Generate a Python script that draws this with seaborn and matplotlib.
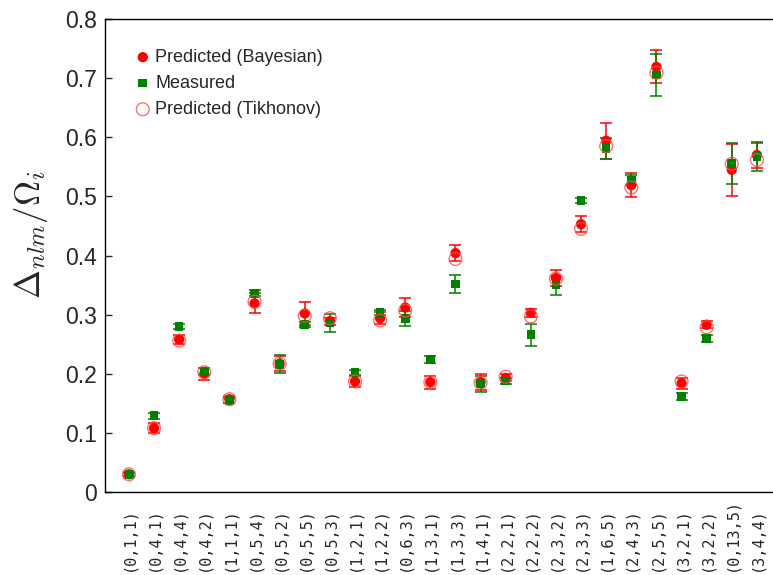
## imports
import numpy as np
import pandas as pd
import seaborn as sns
import matplotlib.pyplot as plt

## quantum number labels (n,l,m)
states = ["(0,1,1)", "(0,4,1)", "(0,4,4)", "(0,4,2)", "(1,1,1)", "(0,5,4)", "(0,5,2)",
          "(0,5,5)", "(0,5,3)", "(1,2,1)", "(1,2,2)", "(0,6,3)", "(1,3,1)", "(1,3,3)",
          "(1,4,1)", "(2,2,1)", "(2,2,2)", "(2,3,2)", "(2,3,3)", "(1,6,5)", "(2,4,3)",
          "(2,5,5)", "(3,2,1)", "(3,2,2)", "(0,13,5)", "(3,4,4)"]

## values
bayes = [0.030, 0.108, 0.258, 0.200, 0.157, 0.319, 0.217, 0.302, 0.289, 0.187, 0.294,
         0.312, 0.186, 0.404, 0.186, 0.193, 0.303, 0.362, 0.453, 0.594, 0.519, 0.719,
         0.184, 0.283, 0.545, 0.570]
bayes_err = [0.004, 0.008, 0.008, 0.010, 0.006, 0.017, 0.013, 0.019, 0.006, 0.009, 0.010,
             0.016, 0.011, 0.0135, 0.014, 0.006, 0.007, 0.013, 0.0135, 0.030, 0.020, 0.028,
             0.009, 0.006, 0.044, 0.022]
measured = [0.030, 0.129, 0.280, 0.2035, 0.1545, 0.336, 0.216, 0.283, 0.286, 0.2025, 0.304,
            0.293, 0.224, 0.352, 0.183, 0.188, 0.266, 0.350, 0.493, 0.581, 0.528, 0.705,
            0.162, 0.260, 0.556, 0.567]
measured_err = [0.003, 0.005, 0.004, 0.006, 0.004, 0.005, 0.015, 0.004, 0.015, 0.004, 0.004,
                0.013, 0.0065, 0.015, 0.013, 0.005, 0.019, 0.016, 0.004, 0.018, 0.008, 0.035,
                0.006, 0.006, 0.035, 0.024]
tikhonov = [0.030, 0.108, 0.256, 0.2025, 0.157, 0.322, 0.217, 0.298, 0.294, 0.187, 0.290,
            0.307, 0.186, 0.394, 0.185, 0.195, 0.297, 0.361, 0.445, 0.585, 0.515, 0.709,
            0.187, 0.2785, 0.555, 0.5615]

df = pd.DataFrame({"pos": np.arange(len(states)), "state": states,
                   "bayes": bayes, "measured": measured, "tikhonov": tikhonov})

sns.set_style("ticks")
plt.rcParams["font.family"] = ["Liberation Sans", "DejaVu Sans"]
plt.rcParams["mathtext.fontset"] = "cm"

fig = plt.figure(figsize=(7.73, 5.75), dpi=100)
## right edge runs just past the picture, as in the original
ax = fig.add_axes([0.1358, 0.1443, 0.87, 0.8227])

## error bars first, markers on top
ax.errorbar(df["pos"], df["bayes"], yerr=bayes_err, fmt="none", ecolor="red",
            elinewidth=1.1, capsize=4.6, capthick=1.1, zorder=2)
ax.errorbar(df["pos"], df["measured"], yerr=measured_err, fmt="none", ecolor="green",
            elinewidth=1.1, capsize=4.6, capthick=1.1, zorder=2)
sns.scatterplot(data=df, x="pos", y="bayes", ax=ax, color="red", marker="o", s=55,
                edgecolor="none", label="Predicted (Bayesian)", zorder=3)
sns.scatterplot(data=df, x="pos", y="measured", ax=ax, color="green", marker="s", s=38,
                edgecolor="none", label="Measured", zorder=4)
sns.scatterplot(data=df, x="pos", y="tikhonov", ax=ax, marker="o", s=85,
                facecolor="none", edgecolor=(1, 0.3, 0.3, 0.8), linewidth=1.0,
                label="Predicted (Tikhonov)", zorder=5)

ax.set_xlim(-0.955, 25.82)
ax.set_ylim(0, 0.8)
ax.set_yticks(np.arange(0, 0.81, 0.1))
ax.set_yticklabels(["0", "0.1", "0.2", "0.3", "0.4", "0.5", "0.6", "0.7", "0.8"], fontsize=16.5)
ax.set_xticks(df["pos"])
ax.set_xticklabels(states, rotation=90, fontsize=11, family="DejaVu Sans Mono")
ax.tick_params(axis="x", length=0, pad=57)
ax.tick_params(axis="y", direction="in", length=5, width=1, pad=5.5)
for lab in ax.get_xticklabels():
    lab.set_verticalalignment("bottom")
for sp in ax.spines.values():
    sp.set_linewidth(1.0)
    sp.set_color("black")

ax.set_xlabel("")
ax.set_ylabel(r"$\Delta_{nlm}/\Omega_i$", fontsize=25)
ax.yaxis.set_label_coords(-0.082, 0.545)

leg = ax.legend(loc="upper left", frameon=False, fontsize=13, handletextpad=0.05,
                borderaxespad=0.0, labelspacing=0.5, handlelength=1.3,
                bbox_to_anchor=(0.028, 0.952))

fig.savefig("out.png", dpi=100)
